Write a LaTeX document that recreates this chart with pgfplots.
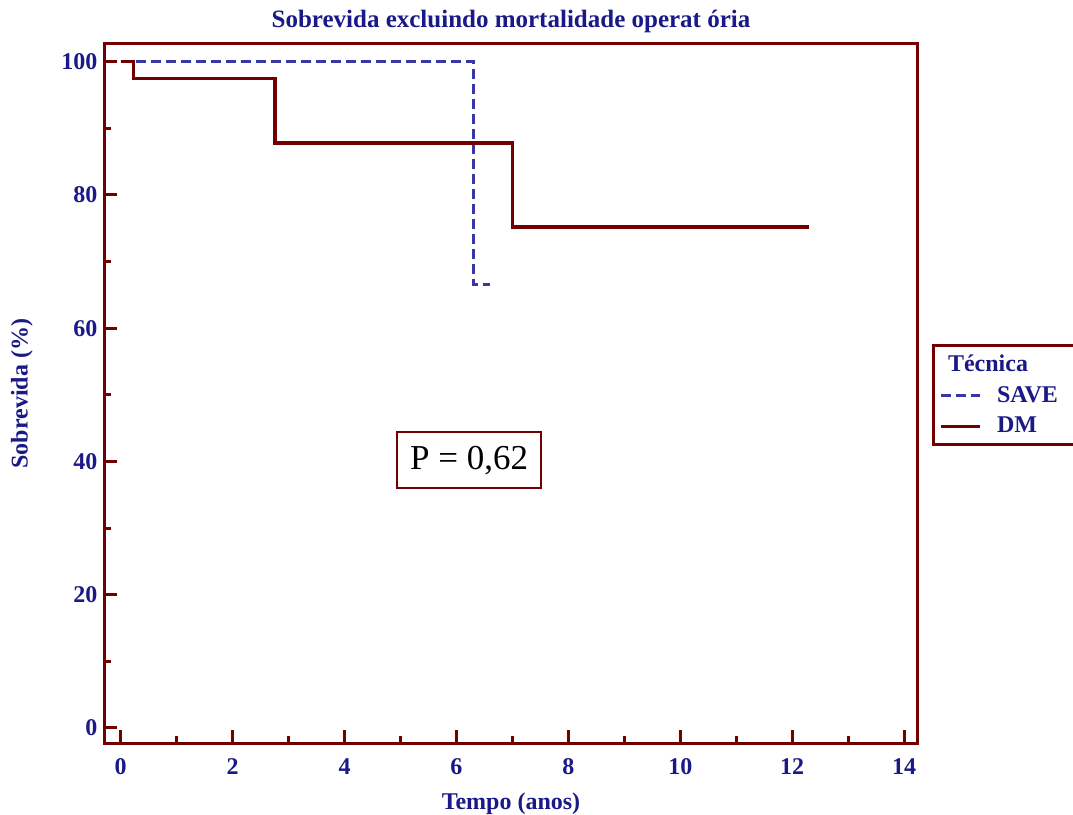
\documentclass[border=0pt]{standalone}
\usepackage{fontspec}
\setmainfont{Liberation Serif}
\usepackage{pgfplots}
\pgfplotsset{compat=1.18}
\definecolor{frame}{RGB}{115,0,0}
\definecolor{txt}{RGB}{25,25,135}
\definecolor{savec}{RGB}{55,55,165}
\begin{document}
\begin{tikzpicture}
\begin{axis}[name=ax, scale only axis, width=406.5pt, height=349.65pt,
  xmin=-0.29, xmax=14.24, ymin=-2.3, ymax=102.65,
  axis line style={frame, line width=1.5pt},
  xtick={0,2,...,14}, ytick={0,20,...,100},
  minor xtick={1,3,...,13}, minor ytick={10,30,...,90},
  tick pos=left, tick align=inside,
  major tick length=6.5pt, minor tick length=3.5pt,
  tick style={frame, line width=1.5pt},
  ticklabel style={font=\bfseries\fontsize{12}{14}\selectfont, text=txt},
  xticklabel style={yshift=-4pt},
  /pgf/number format/assume math mode=true,
  title={Sobrevida excluindo mortalidade operat ória},
  title style={font=\bfseries\fontsize{12.5}{15}\selectfont, text=txt, yshift=-4pt},
  xlabel={Tempo (anos)}, ylabel={Sobrevida (\%)},
  label style={font=\bfseries\fontsize{12}{14}\selectfont, text=txt},
  xlabel shift=2.5pt, ylabel shift=7.5pt,
  legend style={at={(rel axis cs:1.018,0.571)}, anchor=north west, draw=frame, line width=1.5pt,
    font=\bfseries\fontsize{12}{14}\selectfont, text=txt, row sep=2pt, inner ysep=2.5pt},
  legend cell align=left,
  legend image code/.code={\draw[#1] (0pt,0pt) -- (19.5pt,0pt); \path (25pt,0pt);},
]
\addlegendimage{empty legend}
\addlegendentry{\hspace*{-24.5pt}Técnica\hspace*{21pt}}
\addplot[savec, line width=1.4pt, dash pattern=on 5pt off 2.5pt, const plot] coordinates {(0,100) (6.30,66.6) (6.60,66.6)};
\addlegendentry{SAVE}
\addplot[frame, line width=1.7pt, const plot] coordinates {(0,100) (0.23,97.5) (2.76,87.8) (7.0,75.2) (12.3,75.2)};
\addlegendentry{DM}
\node[draw=frame, line width=1pt, font=\fontsize{17.5}{20}\selectfont, minimum width=72pt, minimum height=28pt] at (axis cs:6.225,40.2) {P = 0,62};
\end{axis}
\pgfresetboundingbox
\path (ax.south west) ++(-52.25pt,-35.85pt) rectangle ++(536.5pt,407.5pt);
\end{tikzpicture}
\end{document}
